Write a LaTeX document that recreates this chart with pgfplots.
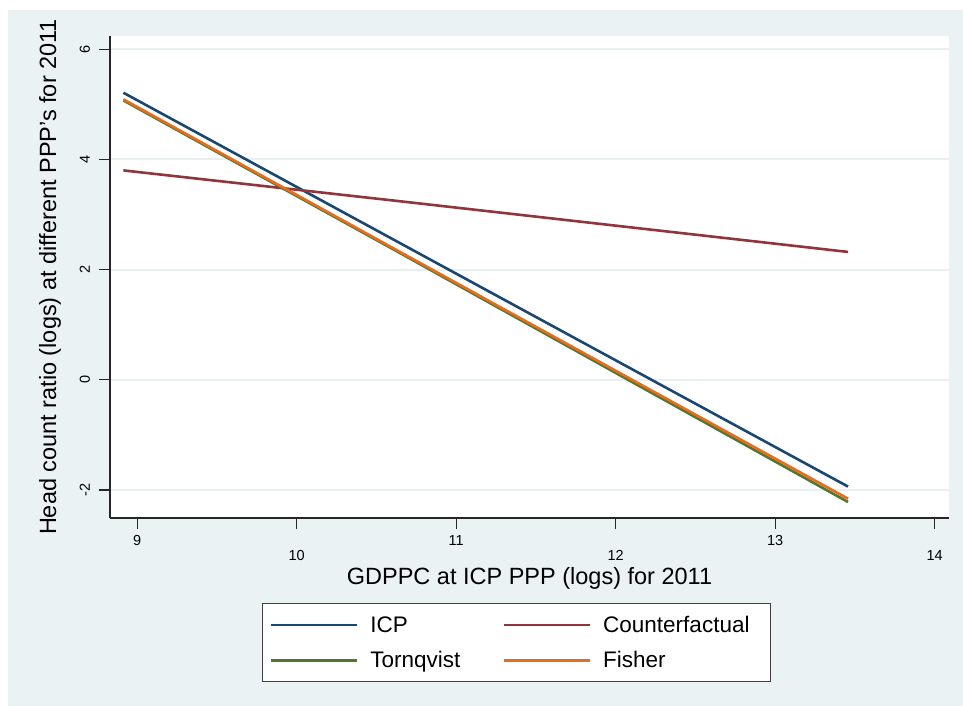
\documentclass[border=0pt]{standalone}
\usepackage{fontspec}
\setmainfont{Liberation Sans}
\usepackage{pgfplots}
\pgfplotsset{compat=1.18}
\definecolor{bgc}{RGB}{234,242,243}
\definecolor{gridc}{RGB}{232,240,242}
\definecolor{navy}{RGB}{26,71,111}
\definecolor{maroon}{RGB}{144,53,59}
\definecolor{fgreen}{RGB}{85,117,47}
\definecolor{dkorange}{RGB}{227,111,30}
\newcommand{\lstrut}{\rule[-5pt]{0pt}{21pt}}
\begin{document}
\begin{tikzpicture}[x=1pt,y=1pt]
\useasboundingbox (0,0) rectangle (963,706);
\fill[white] (0,0) rectangle (963,706);
\fill[bgc] (8,0) rectangle (963,696);
\begin{axis}[
  at={(110pt,188pt)}, anchor=south west,
  scale only axis, width=839pt, height=482pt,
  xmin=8.83, xmax=14.09, ymin=-2.51, ymax=6.24,
  axis background/.style={fill=white},
  axis x line*=bottom, axis y line*=left,
  axis line style={-, black!85, line width=1.2pt},
  tick align=outside, major tick length=11pt,
  tick style={black!85, line width=1.2pt},
  xtick={9,11,13}, xticklabels={9,11,13},
  extra x ticks={10,12,14}, extra x tick labels={10,12,14},
  extra x tick style={xticklabel style={yshift=-15pt}},
  ytick={-2,0,2,4,6}, yticklabels={-2,0,2,4,6},
  ymajorgrids, major grid style={gridc, line width=2pt},
  xticklabel style={font=\fontsize{14.5}{17}\selectfont, inner sep=0pt, anchor=north, yshift=-6pt},
  yticklabel style={font=\fontsize{14.5}{17}\selectfont, inner sep=0pt, xshift=-9pt, rotate=90, anchor=base},
  xlabel={GDPPC at ICP PPP (logs) for 2011},
  ylabel={Head count ratio (logs) at different PPP's for 2011},
  every axis x label/.style={at={(axis description cs:0.5,-0.13693)}, anchor=base, font=\fontsize{23.5}{28}\selectfont, inner sep=0pt},
  every axis y label/.style={at={(axis description cs:-0.06436,0.5)}, rotate=90, anchor=base, font=\fontsize{23.5}{28}\selectfont, inner sep=0pt},
  legend columns=2,
  legend style={at={(axis description cs:0.18117,-0.17635)}, anchor=north west,
    draw=black!75, line width=1.2pt, fill=white, inner xsep=7pt, inner ysep=12.5pt,
    font=\fontsize{22.5}{26}\selectfont, row sep=17.5pt, nodes={inner sep=0pt},
    /tikz/every odd column/.append style={column sep=12pt},
    /tikz/every even column/.append style={column sep=0pt}},
  legend cell align=left,
  legend image code/.code={\draw[#1, line width=2.8pt] (0pt,0pt) -- (86pt,0pt);},
]
\addplot[navy, line width=2.6pt] coordinates {(8.914,5.21) (10.648,2.48) (13.457,-1.94)};
\addlegendentry{\makebox[132pt][l]{\lstrut ICP}}
\addplot[maroon, line width=2.6pt] coordinates {(8.914,3.80) (10.648,3.24) (13.457,2.32)};
\addlegendentry{\makebox[160pt][l]{\lstrut Counterfactual}}
\addplot[fgreen, line width=2.6pt] coordinates {(8.914,5.07) (10.648,2.30) (13.457,-2.22)};
\addlegendentry{\makebox[132pt][l]{\lstrut Tornqvist}}
\addplot[dkorange, line width=2.6pt] coordinates {(8.914,5.09) (10.648,2.32) (13.457,-2.16)};
\addlegendentry{\makebox[160pt][l]{\lstrut Fisher}}
\end{axis}
\end{tikzpicture}
\end{document}
